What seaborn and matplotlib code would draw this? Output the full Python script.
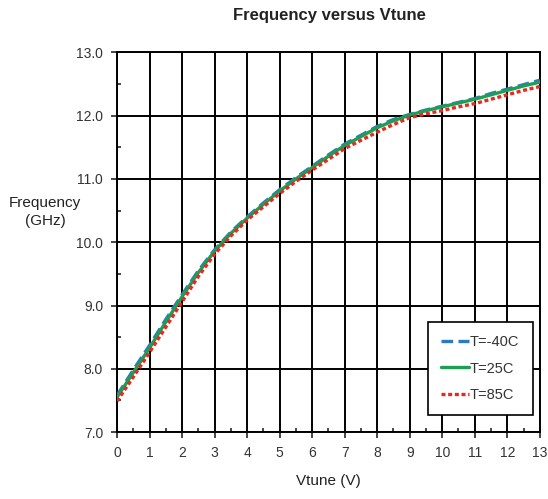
import pandas as pd
import matplotlib
matplotlib.use('Agg')
import matplotlib.pyplot as plt
import seaborn as sns
from matplotlib.ticker import MultipleLocator, FormatStrFormatter
from matplotlib.lines import Line2D

vtune = [0, 0.5, 1, 1.5, 2, 2.5, 3, 3.5, 4, 4.5, 5, 5.5, 6, 6.5, 7, 7.5, 8, 8.5, 9,
         9.5, 10, 10.5, 11, 11.5, 12, 12.5, 13]
freq_m40 = [7.58, 7.98, 8.37, 8.78, 9.17, 9.55, 9.88, 10.16, 10.40, 10.62, 10.83, 11.02,
            11.20, 11.38, 11.55, 11.69, 11.83, 11.94, 12.02, 12.09, 12.15, 12.21, 12.27,
            12.35, 12.42, 12.49, 12.56]
freq_25 = [7.55, 7.94, 8.33, 8.74, 9.14, 9.52, 9.86, 10.14, 10.38, 10.60, 10.81, 11.00,
           11.18, 11.36, 11.53, 11.67, 11.81, 11.92, 12.01, 12.08, 12.14, 12.20, 12.26,
           12.33, 12.40, 12.47, 12.53]
freq_85 = [7.49, 7.87, 8.26, 8.66, 9.06, 9.46, 9.81, 10.10, 10.35, 10.56, 10.77, 10.96,
           11.14, 11.31, 11.48, 11.61, 11.74, 11.86, 11.97, 12.03, 12.08, 12.14, 12.19,
           12.26, 12.33, 12.40, 12.46]
labels = ['T=-40C', 'T=25C', 'T=85C']

rows = []
for lab, vals in zip(labels, [freq_m40, freq_25, freq_85]):
    for v, f in zip(vtune, vals):
        rows.append({'Vtune': v, 'Frequency': f, 'T': lab})
df = pd.DataFrame(rows)

sns.set_style('white')
plt.rcParams['font.family'] = ['Liberation Sans', 'DejaVu Sans']

fig = plt.figure(figsize=(5.48, 4.99), dpi=100)
ax = fig.add_axes([0.2135, 0.134, 0.7715, 0.761])

palette = {'T=-40C': '#2b7bbf', 'T=25C': '#1e9e55', 'T=85C': '#e8281e'}
dashes = {'T=-40C': (3.5, 1.6), 'T=25C': '', 'T=85C': (1.2, 0.8)}
sns.lineplot(data=df, x='Vtune', y='Frequency', hue='T', style='T',
             palette=palette, dashes=dashes, linewidth=2.4, ax=ax,
             legend=False, zorder=3)

ax.set_xlim(0, 13)
ax.set_ylim(7.0, 13.0)
ax.xaxis.set_major_locator(MultipleLocator(1))
ax.xaxis.set_minor_locator(MultipleLocator(0.5))
ax.yaxis.set_major_locator(MultipleLocator(1))
ax.yaxis.set_minor_locator(MultipleLocator(0.5))
ax.yaxis.set_major_formatter(FormatStrFormatter('%.1f'))
ax.grid(True, which='major', color='black', linewidth=1.4)
for s in ax.spines.values():
    s.set_color('black')
    s.set_linewidth(1.4)
ax.tick_params(which='major', direction='out', length=4, width=1.2,
               labelsize=10, labelcolor='#333333', bottom=True, left=True, pad=6)
ax.tick_params(which='minor', direction='in', length=3, width=1.2, bottom=True, left=True)

ax.set_xlabel('Vtune (V)', fontsize=11, color='#222222', labelpad=10)
ax.set_ylabel('')
fig.text(0.082, 0.575, 'Frequency\n(GHz)', ha='center', va='center',
         fontsize=11, color='#222222', linespacing=1.3)
fig.text(0.602, 0.968, 'Frequency versus Vtune', ha='center', va='center',
         fontsize=12, fontweight='bold', color='#222222')

handles = [Line2D([0], [0], color=palette[l], linewidth=2.4,
                  dashes=dashes[l] if dashes[l] else (None, None)) for l in labels]
leg = ax.legend(handles, labels, loc='lower right', bbox_to_anchor=(0.983, 0.045),
                frameon=True, fancybox=False, edgecolor='black', framealpha=1,
                fontsize=10.5, handlelength=1.9, handletextpad=0.1,
                labelspacing=0.85, borderpad=0.9, borderaxespad=0)
leg.get_frame().set_linewidth(1.2)
for t in leg.get_texts():
    t.set_color('#333333')

fig.savefig('out.png', dpi=100)
